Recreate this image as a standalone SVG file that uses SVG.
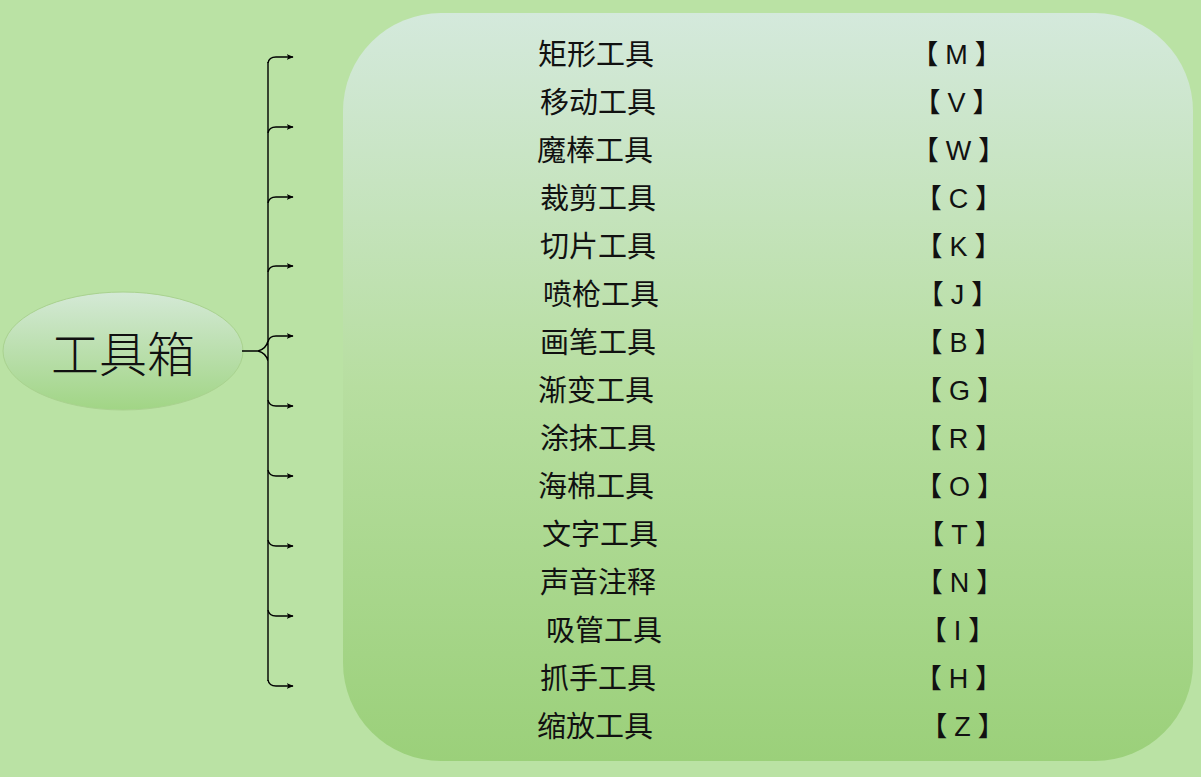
<svg xmlns="http://www.w3.org/2000/svg" width="1201" height="777" viewBox="0 0 1201 777">
<defs>
<linearGradient id="panelGrad" x1="0" y1="0" x2="0" y2="1">
<stop offset="0" stop-color="#d4e9dc"/>
<stop offset="0.5" stop-color="#b7dea0"/>
<stop offset="1" stop-color="#9bd07a"/>
</linearGradient>
<linearGradient id="ellGrad" x1="0" y1="0" x2="0" y2="1">
<stop offset="0" stop-color="#d4e9d6"/>
<stop offset="1" stop-color="#a1d585"/>
</linearGradient>
<marker id="arr" viewBox="0 0 10 10" refX="9" refY="5" markerWidth="7" markerHeight="7" orient="auto" markerUnits="userSpaceOnUse">
<path d="M0,1 L10,5 L0,9 L2.5,5 Z" fill="#000"/>
</marker>
<style>
.item{font-family:"Noto Sans CJK SC","Noto Sans CJK JP",sans-serif;font-size:29px;fill:#111;}
.key{font-family:"Liberation Sans","Noto Sans CJK SC",sans-serif;font-size:27px;fill:#111;text-anchor:middle;letter-spacing:7px;}
.br{fill:none;stroke:#000;stroke-width:1.4;}
.branch{fill:none;stroke:#000;stroke-width:1.4;marker-end:url(#arr);}
</style>
</defs>
<rect x="0" y="0" width="1201" height="777" fill="#bae2a4"/>
<g id="panel">
<rect x="343" y="13" width="850" height="748" rx="98" ry="98" fill="url(#panelGrad)"/>
</g>
<g id="root">
<ellipse cx="123" cy="351" rx="120" ry="59" fill="url(#ellGrad)" stroke="#a9d28f" stroke-width="1"/>
<text x="123" y="372" text-anchor="middle" font-family="Noto Sans CJK SC, sans-serif" font-size="48" font-weight="300" fill="#111">工具箱</text>
</g>
<g id="connectors">
<path class="br" d="M242,351 L258,351 Q266,349 268,341 M258,351 Q266,353 268,361 M268,62 L268,681"/>
<path class="branch" d="M268,63 Q269,57 276,57 L293,57"/>
<path class="branch" d="M268,133 Q269,127 276,127 L293,127"/>
<path class="branch" d="M268,203 Q269,197 276,197 L293,197"/>
<path class="branch" d="M268,272 Q269,266 276,266 L293,266"/>
<path class="branch" d="M268,342 Q269,336 276,336 L293,336"/>
<path class="branch" d="M268,400 Q269,406 276,406 L293,406"/>
<path class="branch" d="M268,470 Q269,476 276,476 L293,476"/>
<path class="branch" d="M268,540 Q269,546 276,546 L293,546"/>
<path class="branch" d="M268,610 Q269,616 276,616 L293,616"/>
<path class="branch" d="M268,680 Q269,686 276,686 L293,686"/>
</g>
<g id="items">
<text class="item" x="538" y="65">矩形工具</text>
<text class="item" x="540" y="113">移动工具</text>
<text class="item" x="537" y="161">魔棒工具</text>
<text class="item" x="540" y="209">裁剪工具</text>
<text class="item" x="540" y="257">切片工具</text>
<text class="item" x="543" y="305">喷枪工具</text>
<text class="item" x="540" y="353">画笔工具</text>
<text class="item" x="538" y="401">渐变工具</text>
<text class="item" x="540" y="449">涂抹工具</text>
<text class="item" x="538" y="497">海棉工具</text>
<text class="item" x="542" y="545">文字工具</text>
<text class="item" x="540" y="593">声音注释</text>
<text class="item" x="546" y="641">吸管工具</text>
<text class="item" x="540" y="689">抓手工具</text>
<text class="item" x="537" y="737">缩放工具</text>
</g>
<g id="keys">
<text class="key" x="960" y="64">【M】</text>
<text class="key" x="960" y="112">【V】</text>
<text class="key" x="962" y="160">【W】</text>
<text class="key" x="962" y="208">【C】</text>
<text class="key" x="962" y="256">【K】</text>
<text class="key" x="961" y="304">【J】</text>
<text class="key" x="962" y="352">【B】</text>
<text class="key" x="963" y="400">【G】</text>
<text class="key" x="962" y="448">【R】</text>
<text class="key" x="963" y="496">【O】</text>
<text class="key" x="963" y="544">【T】</text>
<text class="key" x="963" y="592">【N】</text>
<text class="key" x="961" y="640">【I】</text>
<text class="key" x="962" y="688">【H】</text>
<text class="key" x="966" y="736">【Z】</text>
</g>
</svg>
